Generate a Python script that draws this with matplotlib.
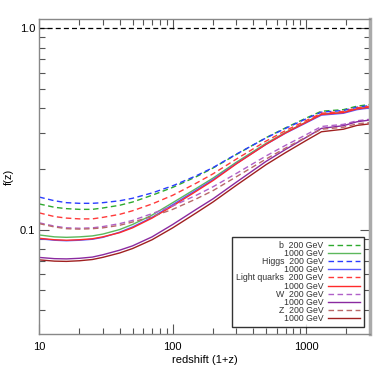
import matplotlib
matplotlib.use("Agg")
import matplotlib.pyplot as plt
from matplotlib.ticker import FixedLocator, NullFormatter, LogLocator

plt.rcParams['font.family'] = ['Liberation Sans', 'DejaVu Sans']

# redshift grid (1+z)
z = [10, 13, 16, 20, 25, 30, 40, 50, 70, 100, 150, 200, 300, 500, 700, 1000, 1300, 1900, 2400, 3000]

b_200 = [0.134, 0.129, 0.127, 0.126, 0.126, 0.128, 0.132, 0.137, 0.148, 0.162, 0.183, 0.202, 0.236, 0.286, 0.320, 0.358, 0.387, 0.394, 0.410, 0.418]
b_1000 = [0.094, 0.092, 0.0915, 0.092, 0.093, 0.095, 0.100, 0.106, 0.118, 0.136, 0.160, 0.180, 0.216, 0.268, 0.304, 0.342, 0.374, 0.382, 0.398, 0.406]
higgs_200 = [0.145, 0.139, 0.136, 0.135, 0.135, 0.136, 0.139, 0.143, 0.152, 0.165, 0.185, 0.203, 0.237, 0.285, 0.318, 0.355, 0.383, 0.390, 0.405, 0.413]
higgs_1000 = [0.090, 0.0885, 0.088, 0.0885, 0.0895, 0.0915, 0.097, 0.103, 0.115, 0.133, 0.157, 0.177, 0.213, 0.265, 0.301, 0.339, 0.370, 0.378, 0.394, 0.402]
lq_200 = [0.121, 0.116, 0.114, 0.113, 0.113, 0.115, 0.119, 0.124, 0.134, 0.148, 0.170, 0.189, 0.224, 0.275, 0.310, 0.348, 0.378, 0.386, 0.402, 0.410]
lq_1000 = [0.0905, 0.089, 0.0885, 0.089, 0.090, 0.092, 0.0965, 0.102, 0.114, 0.131, 0.155, 0.175, 0.212, 0.265, 0.302, 0.341, 0.373, 0.381, 0.397, 0.405]
w_200 = [0.108, 0.104, 0.102, 0.1015, 0.102, 0.1035, 0.107, 0.111, 0.120, 0.131, 0.148, 0.163, 0.190, 0.232, 0.262, 0.296, 0.325, 0.333, 0.347, 0.353]
w_1000 = [0.0727, 0.0717, 0.0715, 0.072, 0.073, 0.075, 0.079, 0.083, 0.092, 0.106, 0.126, 0.142, 0.172, 0.218, 0.250, 0.287, 0.318, 0.328, 0.343, 0.350]
z_200 = [0.107, 0.103, 0.101, 0.1005, 0.101, 0.102, 0.105, 0.109, 0.116, 0.126, 0.142, 0.156, 0.183, 0.224, 0.254, 0.288, 0.315, 0.322, 0.335, 0.340]
z_1000 = [0.0707, 0.0697, 0.0695, 0.070, 0.071, 0.0728, 0.0765, 0.0805, 0.089, 0.102, 0.121, 0.137, 0.166, 0.210, 0.241, 0.277, 0.306, 0.315, 0.329, 0.335]

unity = 1.0

series = [
    ("b  200 GeV", b_200, "#2eaa2e", "--"),
    ("1000 GeV", b_1000, "#5cb85c", "-"),
    ("Higgs  200 GeV", higgs_200, "#2a3cff", "--"),
    ("1000 GeV", higgs_1000, "#5a5aff", "-"),
    ("Light quarks  200 GeV", lq_200, "#ff3a3a", "--"),
    ("1000 GeV", lq_1000, "#ff2a2a", "-"),
    ("W  200 GeV", w_200, "#b060c8", "--"),
    ("1000 GeV", w_1000, "#8a2aa0", "-"),
    ("Z  200 GeV", z_200, "#b86868", "--"),
    ("1000 GeV", z_1000, "#a02020", "-"),
]

fig = plt.figure(figsize=(3.74, 3.74), dpi=100)
ax = fig.add_axes([0.105, 0.107, 0.884, 0.842])

ax.axhline(unity, color="black", lw=0.9, ls=(0, (4, 2.5)))

for label, vals, col, ls in series:
    if ls == "--":
        ax.plot(z, vals, color=col, lw=1.0, ls=(0, (4, 2.5)), label=label)
    else:
        ax.plot(z, vals, color=col, lw=1.0, ls="-", label=label)

ax.set_xscale("log")
ax.set_yscale("log")
ax.set_xlim(10, 3000)
ax.set_ylim(0.0303, 1.11)

ax.xaxis.set_major_locator(FixedLocator([10, 100, 1000]))
ax.set_xticklabels(["10", "100", "1000"])
ax.xaxis.set_minor_locator(LogLocator(base=10, subs=range(2, 10)))
ax.xaxis.set_minor_formatter(NullFormatter())
ax.yaxis.set_major_locator(FixedLocator([0.1, 1.0]))
ax.set_yticklabels(["0.1", "1.0"])
ax.yaxis.set_minor_locator(LogLocator(base=10, subs=range(2, 10)))
ax.yaxis.set_minor_formatter(NullFormatter())

ax.tick_params(which="both", direction="in", top=True, right=True, labelsize=8, colors="#555555", labelcolor="black")
ax.tick_params(which="major", length=7, width=0.8)
ax.tick_params(which="minor", length=4, width=0.8)
ax.tick_params(axis="x", pad=6)
ax.tick_params(axis="y", pad=3)
for sp in ax.spines.values():
    sp.set_color("#888888")
    sp.set_linewidth(1.0)
ax.spines["right"].set_linewidth(2.5)
ax.spines["right"].set_color("#aaaaaa")

ax.set_xlabel("redshift (1+z)", fontsize=8, labelpad=2)
ax.set_ylabel("f(z)", fontsize=8, labelpad=4)

leg = ax.legend(loc="lower right", bbox_to_anchor=(0.982, 0.022), borderaxespad=0,
                fontsize=6.3, markerfirst=False, handlelength=3.6, handletextpad=0.55,
                labelspacing=-0.1, frameon=True, fancybox=False, borderpad=0.45)
leg.get_frame().set_edgecolor("black")
leg.get_frame().set_linewidth(1.0)
for col in leg._legend_handle_box.get_children():
    col.align = "right"
for t in leg.get_texts():
    t.set_color("#333333")

fig.savefig("out.png", dpi=100)
